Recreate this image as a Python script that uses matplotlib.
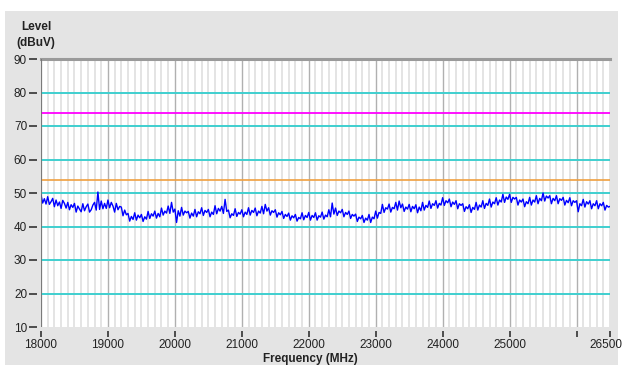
import numpy as np
import matplotlib
matplotlib.use("Agg")
import matplotlib.pyplot as plt
from matplotlib.patches import Rectangle
from matplotlib.transforms import offset_copy

plt.rcParams['font.family'] = ['Liberation Sans', 'DejaVu Sans']

freq_start = 18000
freq_step = 25
level = [
    49.4, 47.0, 48.3, 46.7, 48.9, 46.6, 47.4, 48.4, 45.9, 47.9, 46.2, 47.3, 45.4, 47.8, 46.9, 45.5, 47.2, 45.0, 46.5, 45.7,
    46.9, 44.3, 46.1, 45.2, 44.4, 46.8, 44.7, 45.9, 46.7, 44.3, 45.0, 46.4, 47.2, 44.9, 50.3, 45.1, 47.6, 45.3, 46.9, 45.4,
    47.9, 45.6, 47.2, 46.1, 44.3, 46.9, 45.0, 46.0, 45.8, 43.2, 44.9, 43.5, 43.9, 41.6, 43.0, 42.1, 44.1, 41.9, 43.4, 42.6,
    43.6, 41.5, 42.9, 42.2, 44.5, 42.4, 43.8, 43.1, 44.6, 42.5, 43.9, 42.9, 45.5, 43.4, 44.6, 44.0, 46.1, 43.9, 47.2, 44.3,
    45.2, 41.2, 44.7, 43.1, 45.7, 43.4, 44.6, 44.1, 44.5, 42.5, 44.0, 43.1, 45.1, 42.9, 44.4, 43.8, 45.6, 43.3, 44.8, 44.2,
    45.1, 42.9, 44.3, 43.6, 46.2, 43.8, 45.4, 44.6, 46.0, 43.9, 48.1, 44.5, 44.9, 42.6, 43.8, 43.3, 45.3, 43.0, 44.2, 43.7,
    45.0, 42.9, 44.3, 43.6, 45.6, 43.4, 44.8, 44.2, 45.5, 43.2, 44.6, 44.0, 46.0, 43.8, 46.6, 44.6, 45.6, 43.4, 44.7, 44.2,
    45.0, 42.8, 44.1, 43.5, 44.5, 42.4, 43.6, 43.0, 44.0, 41.9, 43.2, 42.6, 43.6, 41.6, 42.7, 42.3, 44.1, 42.0, 43.3, 42.7,
    44.2, 41.9, 43.3, 42.7, 44.1, 41.9, 43.2, 42.8, 44.3, 42.2, 43.4, 42.9, 45.0, 42.9, 47.0, 43.7, 45.5, 43.3, 44.6, 44.1,
    45.1, 42.9, 44.2, 43.6, 44.6, 42.4, 43.6, 43.1, 43.7, 41.5, 42.8, 42.3, 43.3, 41.2, 42.5, 41.9, 43.6, 41.2, 42.8, 42.3,
    44.6, 42.5, 44.2, 43.9, 46.6, 44.2, 45.6, 45.2, 46.7, 44.3, 45.7, 45.3, 47.2, 44.9, 47.6, 45.6, 46.7, 44.5, 45.8, 45.2,
    46.6, 44.4, 46.0, 45.3, 46.5, 44.1, 45.8, 44.7, 47.2, 44.9, 46.3, 45.7, 47.6, 45.4, 46.8, 46.3, 47.7, 45.5, 46.9, 46.4,
    48.6, 46.3, 47.7, 47.1, 48.2, 45.9, 47.3, 46.6, 47.7, 45.3, 46.8, 46.3, 46.8, 44.5, 45.9, 45.3, 46.5, 44.2, 45.7, 45.1,
    47.2, 44.9, 46.4, 45.8, 47.7, 45.4, 46.9, 46.3, 48.2, 45.8, 47.3, 46.8, 48.6, 46.4, 47.9, 47.3, 49.6, 47.2, 48.8, 48.1,
    49.6, 47.2, 48.7, 48.2, 48.7, 46.4, 47.9, 47.3, 48.2, 45.9, 47.4, 46.8, 48.7, 46.4, 47.9, 47.3, 49.2, 46.8, 48.4, 47.7,
    50.0, 47.6, 49.1, 48.5, 49.2, 46.8, 48.4, 47.7, 49.2, 46.8, 48.3, 47.8, 48.7, 46.4, 47.8, 47.1, 48.6, 46.2, 47.7, 47.2,
    47.7, 44.4, 46.8, 46.2, 48.1, 45.8, 47.4, 46.7, 47.7, 45.3, 46.8, 46.2, 47.7, 45.3, 46.8, 46.2, 47.2, 44.9, 46.3, 45.8,
    46.0,
]
freq = [freq_start + i * freq_step for i in range(len(level))]

limit_upper = 74
limit_lower = 54

x_ticks = [18000, 19000, 20000, 21000, 22000, 23000, 24000, 25000, 26000, 26500]
x_labels = ["18000", "19000", "20000", "21000", "22000", "23000", "24000", "25000", "", "26500"]
y_ticks = [10, 20, 30, 40, 50, 60, 70, 80, 90]

W, H = 623, 365
fig = plt.figure(figsize=(W / 100, H / 100), dpi=100, facecolor="white")
fig.patches.append(Rectangle((5 / W, 0), 613 / W, 354 / H, transform=fig.transFigure,
                             facecolor="#e4e4e4", edgecolor="none", zorder=-5))

ax = fig.add_axes([41 / W, (H - 327) / H, (610 - 41) / W, (327 - 59) / H])
ax.set_zorder(2)
ax.set_facecolor("white")
ax.set_xlim(18000, 26500)
ax.set_ylim(10, 90)

# grid
for f in range(18000, 26501, 100):
    if f % 1000 == 0:
        ax.axvline(f, color="#b0b0b0", lw=1.0, zorder=1)
    else:
        ax.axvline(f, color="#e2e2e2", lw=1.3, zorder=1)
for v in range(20, 90, 10):
    ax.axhline(v, color="#3fcfcf", lw=1.4, zorder=2)

ax.axhline(limit_upper, color="#ff00ff", lw=1.3, zorder=3)
ax.axhline(limit_lower, color="#f0a040", lw=1.2, zorder=3)

ax.plot(freq, level, color="#0000ff", lw=1.0, zorder=4)

# frame
ax.axvline(18000, color="#707070", lw=1.2, zorder=5)
ax.spines["right"].set_visible(False)
ax.spines["top"].set_color("#9a9a9a")
ax.spines["top"].set_linewidth(2.2)
ax.spines["left"].set_position(("outward", 3))
ax.spines["bottom"].set_position(("outward", 3))
ax.spines["left"].set_color("none")
ax.spines["bottom"].set_color("none")

ax.set_xticks(x_ticks)
ax.set_xticklabels(x_labels)
ax.set_yticks(y_ticks)
ax.tick_params(axis="x", direction="out", length=4, width=1.2, color="#333333",
               labelsize=8.5, pad=2, labelcolor="#222222")
ax.tick_params(axis="y", direction="out", length=6, width=1.2, color="#333333",
               labelsize=8.5, pad=1, labelcolor="#222222")
last = ax.get_xticklabels()[-1]
last.set_horizontalalignment("right")
last.set_transform(offset_copy(last.get_transform(), fig=fig, x=12, y=0, units="dots"))

fig.text(36 / W, 1 - 27 / H, "Level", ha="center", va="center", fontsize=8.5,
         fontweight="bold", color="#222222")
fig.text(36 / W, 1 - 43 / H, "(dBuV)", ha="center", va="center", fontsize=8.5,
         fontweight="bold", color="#222222")
fig.text(310 / W, 1 - 359 / H, "Frequency (MHz)", ha="center", va="center", fontsize=8.5,
         fontweight="bold", color="#222222")

fig.savefig("out.png", dpi=100, facecolor="white")
